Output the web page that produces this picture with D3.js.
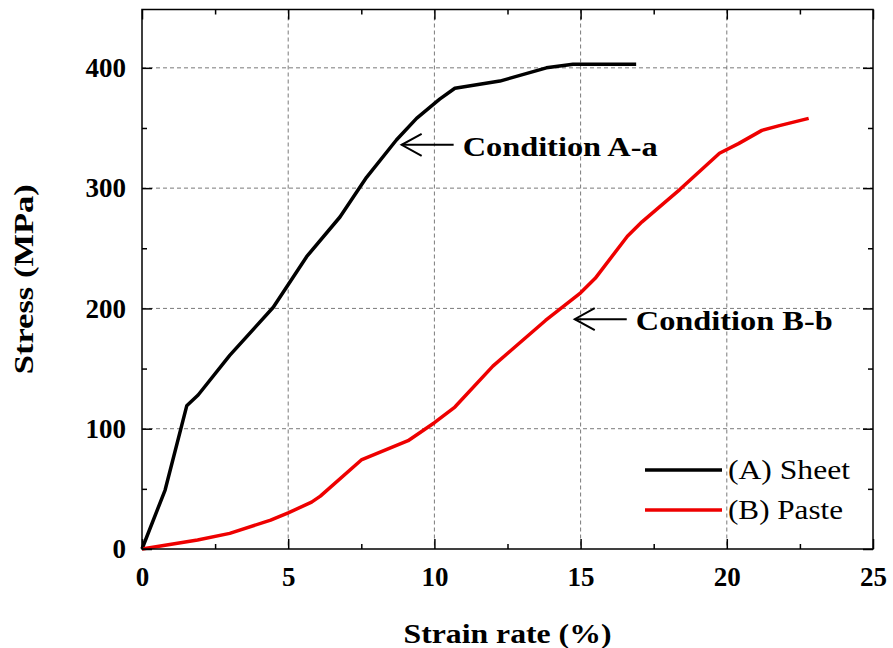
<!DOCTYPE html>
<html>
<head>
<meta charset="utf-8">
<script src="https://cdn.jsdelivr.net/npm/d3@7"></script>
<style>
  body { margin: 0; background: #fff; }
  text { font-family: "Liberation Serif", "Times New Roman", serif; }
</style>
</head>
<body>
<svg width="893" height="648"></svg>
<script>
const svg_width = 893;
const svg_height = 648;

// (A) Sheet
const strain_a = [0, 0.79, 1.53, 1.92, 3.0, 3.86, 4.49, 5.63, 6.77, 7.68, 8.7, 9.39, 10.18, 10.7, 12.24, 13.83, 14.74, 16.9];
const stress_a = [0, 49, 119, 128, 161, 184, 201, 243, 276, 309, 340, 358, 374, 383, 389, 400, 403, 403];

// (B) Paste
const strain_b = [0, 1.9, 3.0, 4.4, 5.0, 5.8, 6.1, 7.5, 9.1, 10.0, 10.7, 12.0, 13.8, 15.0, 15.5, 16.6, 17.1, 18.4, 19.75, 20.4, 21.2, 21.8, 22.8];
const stress_b = [0, 7.5, 13, 24, 30, 39, 44, 74, 90, 105, 118, 152, 190, 213, 225, 260, 272, 299, 329, 337, 348, 352, 358];

const series_names = ["(A) Sheet", "(B) Paste"];
const series_colors = ["#000000", "#ee0000"];

const x_ticks = [0, 5, 10, 15, 20, 25];
const x_minor = [2.5, 7.5, 12.5, 17.5, 22.5];
const y_ticks = [0, 100, 200, 300, 400];
const y_minor = [50, 150, 250, 350];

// arrow tips (strain, stress) with their labels
const note_labels = ["Condition A-a", "Condition B-b"];
const note_strain = [8.88, 14.8];
const note_stress = [336, 191];

const margin = { left: 142, top: 9.5, right: 20, bottom: 99 };
const plot_w = svg_width - margin.left - margin.right;
const plot_h = svg_height - margin.top - margin.bottom;

const x = d3.scaleLinear().domain([0, 25]).range([0, plot_w]);
const y = d3.scaleLinear().domain([0, 448.5]).range([plot_h, 0]);

const svg = d3.select("svg");
const g = svg.append("g").attr("transform", `translate(${margin.left},${margin.top})`);

function drawGrid() {
  var grid = g.append("g").attr("class", "grid")
    .attr("stroke", "#7a7a7a").attr("stroke-width", 1).attr("stroke-dasharray", "4,3");
  grid.selectAll(".gx").data(x_ticks.slice(1, -1)).enter().append("line")
    .attr("x1", d => x(d)).attr("x2", d => x(d)).attr("y1", 0).attr("y2", plot_h);
  grid.selectAll(".gy").data(y_ticks.slice(1)).enter().append("line")
    .attr("x1", 0).attr("x2", plot_w).attr("y1", d => y(d)).attr("y2", d => y(d));
}

function styleAxis(sel) {
  sel.select(".domain").remove();
  sel.selectAll("line").attr("stroke", "#000").attr("stroke-width", 1.5);
  sel.selectAll("text").attr("fill", "#000").attr("font-size", "27px").attr("font-weight", "bold")
    .attr("font-family", "'Liberation Serif', 'Times New Roman', serif");
}

function drawAxes() {
  // ticks point inward on all four sides
  g.append("g").attr("transform", `translate(0,${plot_h})`)
    .call(d3.axisBottom(x).tickValues(x_ticks).tickSize(-10).tickPadding(18).tickFormat(d3.format("d")))
    .call(styleAxis);
  g.append("g").attr("transform", `translate(0,${plot_h})`)
    .call(d3.axisBottom(x).tickValues(x_minor).tickSize(-5).tickFormat(""))
    .call(styleAxis);
  g.append("g")
    .call(d3.axisLeft(y).tickValues(y_ticks).tickSize(-10).tickPadding(16).tickFormat(d3.format("d")))
    .call(styleAxis);
  g.append("g")
    .call(d3.axisLeft(y).tickValues(y_minor).tickSize(-5).tickFormat(""))
    .call(styleAxis);
  g.append("g")
    .call(d3.axisTop(x).tickValues(x_ticks).tickSize(-10).tickFormat(""))
    .call(styleAxis);
  g.append("g")
    .call(d3.axisTop(x).tickValues(x_minor).tickSize(-5).tickFormat(""))
    .call(styleAxis);
  g.append("g").attr("transform", `translate(${plot_w},0)`)
    .call(d3.axisRight(y).tickValues(y_ticks).tickSize(-10).tickFormat(""))
    .call(styleAxis);
  g.append("g").attr("transform", `translate(${plot_w},0)`)
    .call(d3.axisRight(y).tickValues(y_minor).tickSize(-5).tickFormat(""))
    .call(styleAxis);

  g.append("rect").attr("width", plot_w).attr("height", plot_h)
    .attr("fill", "none").attr("stroke", "#000").attr("stroke-width", 1.5);

  svg.append("text")
    .attr("x", margin.left + plot_w / 2).attr("y", 643)
    .attr("text-anchor", "middle").attr("font-size", "28px").attr("font-weight", "bold")
    .attr("textLength", 208).attr("lengthAdjust", "spacingAndGlyphs")
    .text("Strain rate (%)");

  svg.append("text")
    .attr("transform", `translate(33,${margin.top + plot_h / 2}) rotate(-90)`)
    .attr("text-anchor", "middle").attr("font-size", "28px").attr("font-weight", "bold")
    .attr("textLength", 190).attr("lengthAdjust", "spacingAndGlyphs")
    .text("Stress (MPa)");
}

function drawCurves() {
  var line = d3.line().x(d => x(d[0])).y(d => y(d[1]));
  var all = [d3.zip(strain_a, stress_a), d3.zip(strain_b, stress_b)];
  g.selectAll(".curve").data(all).enter().append("path")
    .attr("class", "curve")
    .attr("fill", "none")
    .attr("stroke", (d, i) => series_colors[i])
    .attr("stroke-width", 3.5)
    .attr("stroke-linejoin", "round")
    .attr("d", line);
}

function drawNotes() {
  const shaft = 52;
  const text_len = [195, 197];
  note_labels.forEach(function (label, i) {
    var tx = x(note_strain[i]);
    var ty = y(note_stress[i]);
    var note = g.append("g").attr("stroke", "#000").attr("stroke-width", 2).attr("fill", "none");
    note.append("line").attr("x1", tx).attr("x2", tx + shaft).attr("y1", ty).attr("y2", ty);
    note.append("path").attr("d", `M ${tx + 20} ${ty - 11} L ${tx} ${ty} L ${tx + 20} ${ty + 11}`);
    g.append("text")
      .attr("x", tx + shaft + 9).attr("y", ty + 11)
      .attr("font-size", "28px").attr("font-weight", "bold")
      .attr("textLength", text_len[i]).attr("lengthAdjust", "spacingAndGlyphs")
      .text(label);
  });
}

function drawLegend() {
  const text_len = [122, 115];
  var legend = g.append("g").attr("transform", `translate(${645 - margin.left},${470 - margin.top})`);
  series_names.forEach(function (name, i) {
    var row = legend.append("g").attr("transform", `translate(0,${i * 40})`);
    row.append("line").attr("x1", 0).attr("x2", 77).attr("y1", 0).attr("y2", 0)
      .attr("stroke", series_colors[i]).attr("stroke-width", 3.5);
    row.append("text").attr("x", 83).attr("y", 9)
      .attr("font-size", "27px")
      .attr("textLength", text_len[i]).attr("lengthAdjust", "spacingAndGlyphs")
      .text(name);
  });
}

drawGrid();
drawCurves();
drawAxes();
drawNotes();
drawLegend();
</script>
</body>
</html>
